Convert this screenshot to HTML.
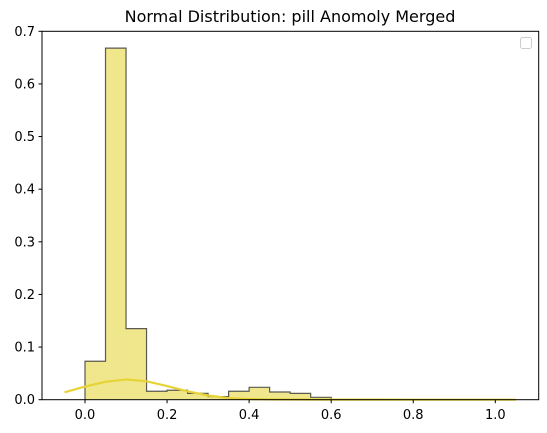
<!DOCTYPE html>
<html><head><meta charset="utf-8"><style>
body{margin:0;background:#fff;}
svg{display:block;font-family:"DejaVu Sans","Liberation Sans",sans-serif;}
</style></head><body>
<svg id="chart" width="547" height="433">
<text x="290" y="22" text-anchor="middle" font-size="16" fill="#000">Normal Distribution: pill Anomoly Merged</text>
<g id="bars"></g>
<polyline id="kde" fill="none" stroke="#e8d337" stroke-width="2.2"></polyline>
<rect x="42" y="31.3" width="496.7" height="368.4" fill="none" stroke="#000" stroke-width="1"/>
<g id="axes"></g>
<rect x="520.5" y="37.5" width="11" height="11" rx="2" fill="#fff" stroke="#ccc" stroke-width="1"/>
</svg>
<script>
const binStarts=[0,0.05,0.1,0.15,0.2,0.25,0.3,0.35,0.4,0.45,0.5,0.55,0.6,0.65,0.7,0.75,0.8,0.85,0.9,0.95];
const binValues=[0.073,0.668,0.135,0.016,0.018,0.012,0.006,0.016,0.0235,0.0146,0.012,0.0045,0,0,0,0,0,0,0,0];
const binWidth=0.05;
const kdeX=[-0.05,0,0.05,0.1,0.15,0.2,0.25,0.3,0.35,0.4,0.45,0.5,0.6,0.7,0.8,0.9,1.0,1.05];
const kdeY=[0.014,0.025,0.034,0.0385,0.035,0.026,0.016,0.008,0.003,0.0012,0.0006,0.0004,0.0002,0.0001,0,0,0,0];
const xTicks=[0,0.2,0.4,0.6,0.8,1.0];
const xTickLabels=["0.0","0.2","0.4","0.6","0.8","1.0"];
const yTicks=[0,0.1,0.2,0.3,0.4,0.5,0.6,0.7];
const yTickLabels=["0.0","0.1","0.2","0.3","0.4","0.5","0.6","0.7"];
const NS="http://www.w3.org/2000/svg";
function sx(v){return 85+v*410.3;}
function sy(v){return 399.7-v*526.3;}
const bars=document.getElementById('bars');
let d="M"+sx(binStarts[0])+","+sy(0);
binStarts.forEach((s,i)=>{
  const r=document.createElementNS(NS,'rect');
  r.setAttribute('x',sx(s));r.setAttribute('width',sx(s+binWidth)-sx(s));
  r.setAttribute('y',sy(binValues[i]));r.setAttribute('height',sy(0)-sy(binValues[i]));
  r.setAttribute('fill','#f0e68c');
  
  
  bars.appendChild(r);
  d+=" L"+sx(s)+","+sy(binValues[i])+" L"+sx(s+binWidth)+","+sy(binValues[i]);
});
d+=" L"+sx(binStarts[binStarts.length-1]+binWidth)+","+sy(0);
const outline=document.createElementNS(NS,'path');
outline.setAttribute('d',d);outline.setAttribute('fill','none');outline.setAttribute('stroke','#5a5a50');outline.setAttribute('stroke-width','1.2');


bars.appendChild(outline);
document.getElementById('kde').setAttribute('points',kdeX.map((x,i)=>sx(x)+","+sy(kdeY[i])).join(' '));
const axes=document.getElementById('axes');
xTicks.forEach((t,i)=>{
  const l=document.createElementNS(NS,'line');
  l.setAttribute('x1',sx(t));l.setAttribute('x2',sx(t));l.setAttribute('y1',399.7);l.setAttribute('y2',403.2);l.setAttribute('stroke','#000');
  
  
  axes.appendChild(l);
  const tx=document.createElementNS(NS,'text');
  tx.setAttribute('x',sx(t));tx.setAttribute('y',419);tx.setAttribute('text-anchor','middle');tx.setAttribute('font-size','13');
  tx.textContent=xTickLabels[i];
  
  
  axes.appendChild(tx);
});
yTicks.forEach((t,i)=>{
  const l=document.createElementNS(NS,'line');
  l.setAttribute('x1',38.5);l.setAttribute('x2',42);l.setAttribute('y1',sy(t));l.setAttribute('y2',sy(t));l.setAttribute('stroke','#000');
  
  
  axes.appendChild(l);
  const tx=document.createElementNS(NS,'text');
  tx.setAttribute('x',35);tx.setAttribute('y',sy(t)+4.5);tx.setAttribute('text-anchor','end');tx.setAttribute('font-size','13');
  tx.textContent=yTickLabels[i];
  
  
  axes.appendChild(tx);
});
</script>
</body></html>
